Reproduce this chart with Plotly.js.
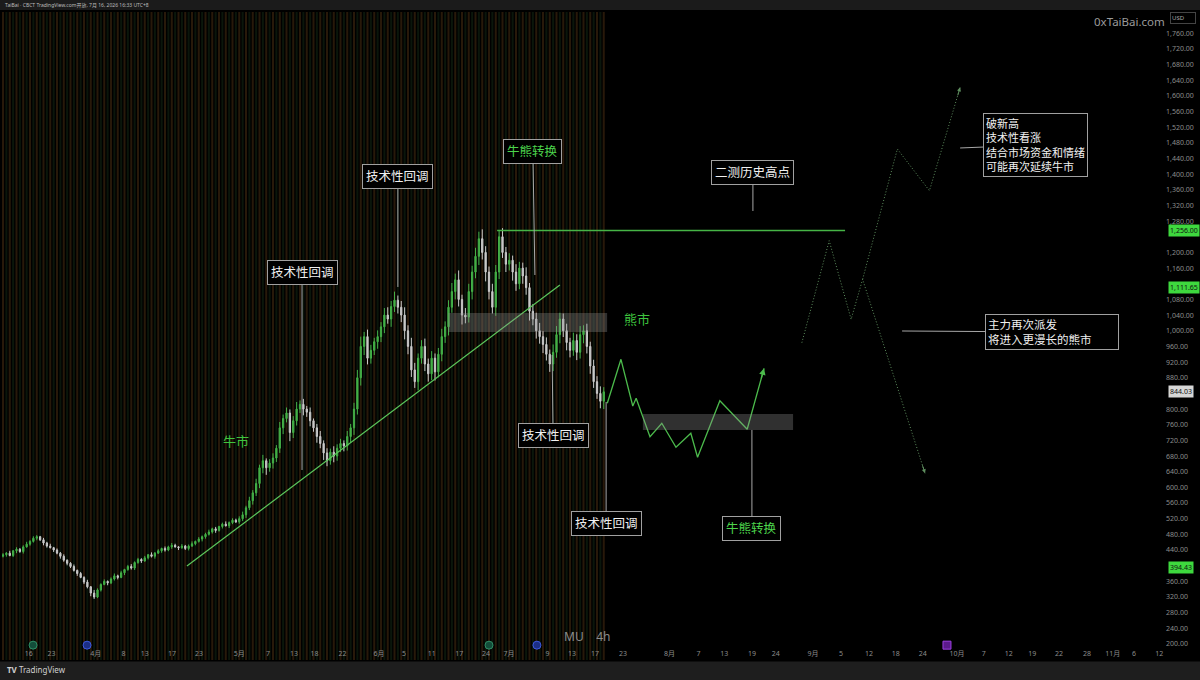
<!DOCTYPE html>
<html><head><meta charset="utf-8">
<script src="https://cdn.plot.ly/plotly-3.0.1.min.js"></script>
<style>html,body{margin:0;padding:0;background:#000;overflow:hidden}#chart{width:1200px;height:680px}</style>
</head><body><div id="chart"></div>
<script>
// ---- MU 4h candles (bar index, price in USD) ----
const firstOpen = 424;
const closes = [
 428,432,426,438,442,436,448,455,462,470,
 474,466,458,450,446,440,432,424,414,406,
 398,388,380,370,358,346,330,320,338,352,
 360,356,366,374,370,382,390,398,394,408,
 416,412,420,428,424,432,438,444,440,448,
 452,448,446,450,444,450,456,462,468,474,
 480,486,494,490,500,506,502,510,516,512,
 520,530,548,566,586,610,650,668,650,662,
 675,700,752,776,790,740,770,800,812,800,
 792,770,752,730,712,688,668,690,680,700,
 712,706,730,752,800,880,960,985,930,950,
 972,985,1010,1040,1030,1062,1078,1060,1040,1000,
 960,900,870,930,960,915,890,930,895,940,
 985,1010,1060,1100,1130,1080,1040,1035,1100,1150,
 1190,1235,1200,1150,1100,1060,1150,1240,1200,1170,
 1180,1150,1120,1160,1140,1110,1050,1030,1000,985,
 965,940,915,945,990,1030,1000,970,950,975,
 945,990,1000,960,910,870,840,820,844
];
const wickUp = [
 4,3,6,2,5,3,4,6,3,5, 4,2,5,3,6,2,4,3,5,2,
 3,5,2,4,3,6,2,8,4,3, 5,2,4,6,3,5,2,4,6,3,
 4,3,5,2,6,3,4,2,5,3, 6,4,2,5,3,4,6,2,5,3,
 4,6,3,5,2,4,7,3,5,4, 6,8,5,10,7,12,8,15,6,10,
 12,8,15,10,14,9,12,18,10,14, 8,12,6,10,14,8,12,9,15,10,
 12,8,14,10,16,20,25,12,18,14, 10,16,12,18,20,14,22,12,16,20,
 14,22,18,12,16,20,14,18,12,16, 20,14,18,22,16,24,12,18,20,16,
 22,18,24,16,14,20,18,16,22,14, 18,12,20,16,14,22,12,18,16,20,
 14,18,12,20,22,16,14,18,12,20, 16,22,14,18,12,16,14,18,12
];
const wickDn = [
 3,5,2,4,6,3,5,2,4,3, 5,3,6,4,2,5,3,6,4,5,
 4,3,6,2,5,4,8,5,3,4, 2,6,3,4,5,2,6,3,4,5,
 3,5,2,4,3,6,2,5,4,3, 5,2,6,3,4,5,2,4,3,6,
 5,3,4,6,3,5,2,6,4,3, 5,6,8,6,10,8,12,14,18,10,
 14,10,12,16,10,22,14,12,10,16, 12,14,10,16,12,18,14,10,16,12,
 10,14,12,16,18,14,20,22,16,14, 12,18,14,16,12,20,14,16,18,22,
 20,18,16,22,14,18,20,16,22,14, 18,16,22,14,20,18,24,16,14,20,
 16,22,18,24,20,16,22,18,14,20, 16,22,18,14,20,18,24,16,20,18,
 22,16,20,18,14,22,16,20,18,14, 20,16,22,18,20,16,14,18,20
];

// ---- time axis labels (position in bars) ----
const tickBars = [7.6,14.4,27.5,35.7,42.0,50.1,58.1,70.0,78.5,86.2,92.3,100.6,111.4,118.8,127.0,135.2,143.1,149.9,161.3,168.6,175.4,
 183.7,197.5,206.1,213.7,221.9,229.0,240.0,248.3,256.6,264.5,272.5,282.7,290.6,298.0,305.0,312.9,321.2,328.8,335.1,342.6];
const tickLabels = ['16','23','4月','8','13','17','23','5月','7','13','18','22','6月','5','11','17','24','7月','9','13','17',
 '23','8月','7','13','19','24','9月','5','12','18','24','10月','7','12','19','22','28','11月','6','12'];
// price labels (those hidden behind the last-value badges are left out, as on the reference)
const priceTicks = [200,240,280,320,360,440,480,520,560,600,640,680,720,760,800,880,920,960,1000,
 1040,1080,1160,1200,1280,1320,1360,1400,1440,1480,1520,1560,1600,1640,1680,1720,1760];

// ---- drawings ----
const resistBars = [146.4, 249.5];
const resistPrice = [1256, 1256];
const trendBars = [54.5, 165.0];
const trendPrices = [399.2, 1116.9];
const pathGreenBars = [179.05,183.1,186.6,187.6,191.7,195.2,199.4,203.8,205.8,212.4,220.5,225.5];
const pathGreenPrices = [814.7,927.1,807.9,827.5,729.5,763.7,702.4,738.1,676.8,821.4,748.4,904.1];
const pathBearBars = [236.7,244.8,251.3,254.7,273.2];
const pathBearPrices = [969.5,1230.0,1029.3,1131.4,636.0];
const pathBullBars = [254.7,265.0,274.5,283.6];
const pathBullPrices = [1131.4,1464.2,1357.7,1621.8];
const zoneBars = [[131.9,179.0],[189.6,234.1]];
const zonePrices = [[996.8,1045.4],[746.6,787.4]];

const calloutText = ['技术性回调','技术性回调','牛熊转换','技术性回调','技术性回调','牛熊转换','二测历史高点',
 '破新高<br>技术性看涨<br>结合市场资金和情绪<br>可能再次延续牛市','主力再次派发<br>将进入更漫长的熊市'];
const calloutGreen = [false,false,true,false,false,true,false,false,false];
const calloutSize = [12.5,12.5,12.5,12.5,12.5,12.5,12.5,11,11.5];
const calloutBar = [88.6,117.0,157.6,162.7,178.7,221.9,222.2,283.6,266.4];
const calloutPrice = [644.4,1111.8,1142.4,938.1,818.1,746.6,1305.9,1466.8,999.4];
const calloutDx = [0,0,-2,1,0,0,0,75,150];
const calloutDy = [-197,-110,-124,81,122,99,-38,-3,1];

const eventBars = [8.9,24.9,144.0,158.2,279.7];
const eventColor = ['#134d3a','#1c2f86','#134d3a','#1c2f86','#5b1a8c'];
const eventLine = ['#2f8f66','#3d5ae0','#2f8f66','#3d5ae0','#9b3fe0'];
const eventSymbol = ['circle','circle','circle','circle','square'];

const badgePrices = [1256, 1111.65, 844.03, 394.43];
const badgeText = ['1,256.00','1,111.65','844.03','394.43'];
const badgeBg = ['#3ed83e','#3ed83e','#d6d6d6','#3ed83e'];

// ---- derived OHLC ----
const barIdx = closes.map((_, i) => i);
const opens = closes.map((c, i) => i === 0 ? firstOpen : closes[i - 1]);
const highs = closes.map((c, i) => Math.max(opens[i], c) + wickUp[i]);
const lows = closes.map((c, i) => Math.min(opens[i], c) - wickDn[i]);

const Y0 = 159.1, Y1 = 1814.1;
const FONT = 'Noto Sans, Noto Sans CJK SC, sans-serif';
const DOTS = '1px,2px';

const traces = [
 {type:'candlestick', x:barIdx, open:opens, high:highs, low:lows, close:closes,
  increasing:{line:{color:'#43b047',width:1}, fillcolor:'#43b047'},
  decreasing:{line:{color:'#c9c9c9',width:1}, fillcolor:'#c9c9c9'},
  whiskerwidth:0, hoverinfo:'skip', showlegend:false},
 {type:'scatter', mode:'lines', x:resistBars, y:resistPrice, line:{color:'#46b446',width:1.3}, hoverinfo:'skip', showlegend:false},
 {type:'scatter', mode:'lines', x:trendBars, y:trendPrices, line:{color:'#5cc85c',width:1.2}, hoverinfo:'skip', showlegend:false},
 {type:'scatter', mode:'lines', x:pathGreenBars, y:pathGreenPrices, line:{color:'#4cbb4c',width:1.3}, hoverinfo:'skip', showlegend:false},
 {type:'scatter', mode:'lines', x:pathBearBars, y:pathBearPrices, line:{color:'#5f8f5f',width:1,dash:DOTS}, hoverinfo:'skip', showlegend:false},
 {type:'scatter', mode:'lines', x:pathBullBars, y:pathBullPrices, line:{color:'#5f8f5f',width:1,dash:DOTS}, hoverinfo:'skip', showlegend:false},
 {type:'scatter', mode:'markers', x:eventBars, y:eventBars.map(() => 197), cliponaxis:false,
  marker:{size:8, color:eventColor, symbol:eventSymbol, line:{color:eventLine,width:1}}, hoverinfo:'skip', showlegend:false}
];

const shapes = [];
// session background stripes behind the candles
barIdx.forEach(i => {
  shapes.push({type:'rect', xref:'x', yref:'paper', x0:i-0.3, x1:i+0.3, y0:0, y1:1,
    fillcolor: (i % 2 === 0) ? '#28190a' : '#0b160b', line:{width:0}, layer:'below'});
});
zoneBars.forEach((b, k) => {
  shapes.push({type:'rect', xref:'x', yref:'y', x0:b[0], x1:b[1], y0:zonePrices[k][0], y1:zonePrices[k][1],
    fillcolor:'rgba(150,150,150,0.32)', line:{width:0}, layer:'above'});
});
// header and footer bars
shapes.push({type:'rect', xref:'paper', yref:'paper', x0:-0.01, x1:1.04, y0:1.0031, y1:1.02, fillcolor:'#1b1b1b', line:{width:0}});
shapes.push({type:'rect', xref:'paper', yref:'paper', x0:-0.01, x1:1.04, y0:-0.0025, y1:-0.035, fillcolor:'#1e1e1e', line:{width:0}});

const annotations = [];
calloutText.forEach((t, k) => {
  const a = {x:calloutBar[k], y:calloutPrice[k], xref:'x', yref:'y', text:t,
    showarrow:true, arrowhead:0, arrowwidth:1, arrowcolor:'#a8a8a8', ax:calloutDx[k], ay:calloutDy[k],
    bgcolor:'#000000', bordercolor:'#a0a0a0', borderwidth:1, borderpad: k >= 7 ? 2 : 3, align:'left',
    font:{family:FONT, size:calloutSize[k], color: calloutGreen[k] ? '#4cd44c' : '#f0f0f0'}};
  if (k === 8) a.width = 128;
  annotations.push(a);
});
annotations.push({x:69.0, y:718.5, xref:'x', yref:'y', text:'牛市', showarrow:false, font:{family:FONT,size:13,color:'#3fc43f'}});
annotations.push({x:187.9, y:1030, xref:'x', yref:'y', text:'熊市', showarrow:false, font:{family:FONT,size:13,color:'#3fc43f'}});
// arrowheads at the ends of the projections (short tails along the last segment)
annotations.push({x:pathGreenBars[11], y:pathGreenPrices[11], xref:'x', yref:'y', ax:-3.2, ay:11.6,
  text:'', showarrow:true, arrowhead:2, arrowsize:1, arrowwidth:1.3, arrowcolor:'#4cbb4c', standoff:0});
annotations.push({x:pathBearBars[4], y:pathBearPrices[4], xref:'x', yref:'y', ax:-3.1, ay:-9.5,
  text:'', showarrow:true, arrowhead:2, arrowsize:0.8, arrowwidth:1, arrowcolor:'#5f8f5f', standoff:0});
annotations.push({x:pathBullBars[3], y:pathBullPrices[3], xref:'x', yref:'y', ax:-2.8, ay:9.6,
  text:'', showarrow:true, arrowhead:2, arrowsize:0.8, arrowwidth:1, arrowcolor:'#5f8f5f', standoff:0});
// price badges
badgePrices.forEach((p, k) => {
  annotations.push({xref:'paper', yref:'y', x:1, y:p, xanchor:'left', yanchor:'middle', xshift:3, text:badgeText[k], showarrow:false,
    bgcolor:badgeBg[k], borderpad:1, font:{family:FONT,size:7,color:'#111'}});
});
annotations.push({xref:'paper', yref:'paper', x:1, y:0.9907, xanchor:'left', yanchor:'middle', xshift:5, text:'USD', showarrow:false,
  bgcolor:'#000', bordercolor:'#444', borderwidth:1, borderpad:1, font:{family:FONT,size:6,color:'#aaa'}, width:22, align:'left'});
// watermarks and texts
annotations.push({xref:'paper', yref:'paper', x:0.9699, y:0.9846, xanchor:'center', yanchor:'middle', text:'0xTaiBai.com', showarrow:false, font:{family:FONT,size:11.5,color:'#9a9a9a'}});
annotations.push({xref:'paper', yref:'paper', x:0.503, y:0.037, xanchor:'center', yanchor:'middle', text:'MU    4h', showarrow:false, font:{family:FONT,size:12,color:'#8c8c8c'}});
annotations.push({xref:'paper', yref:'paper', x:0.001, y:1.0108, xanchor:'left', yanchor:'middle', text:'TaiBai · CBCT TradingView.com开放, 7月 16, 2026 16:33 UTC+8', showarrow:false,
  font:{family:FONT,size:5,color:'#bdbdbd'}});
annotations.push({xref:'paper', yref:'paper', x:0.003, y:-0.0154, xanchor:'left', yanchor:'middle', text:'<b>TV</b> TradingView', showarrow:false,
  font:{family:FONT,size:8,color:'#d0d0d0'}});

const layout = {
  width:1200, height:680,
  margin:{l:2, r:35, t:12, b:20},
  paper_bgcolor:'#000', plot_bgcolor:'#000',
  showlegend:false,
  boxgap:0.45,
  xaxis:{range:[-0.3,344.3], rangeslider:{visible:false}, showgrid:false, zeroline:false, showline:false,
    tickvals:tickBars, ticktext:tickLabels, ticks:'', ticklabelposition:'inside',
    tickfont:{family:FONT,size:7,color:'#8c8c8c'}, fixedrange:true},
  yaxis:{range:[Y0,Y1], side:'right', showgrid:false, zeroline:false, showline:false,
    tickvals:priceTicks, tickformat:',.2f', ticks:'', tickfont:{family:FONT,size:7,color:'#8c8c8c'}, fixedrange:true},
  shapes:shapes, annotations:annotations,
  font:{family:FONT}
};
Plotly.newPlot('chart', traces, layout, {displayModeBar:false, staticPlot:true});
</script>
</body></html>
